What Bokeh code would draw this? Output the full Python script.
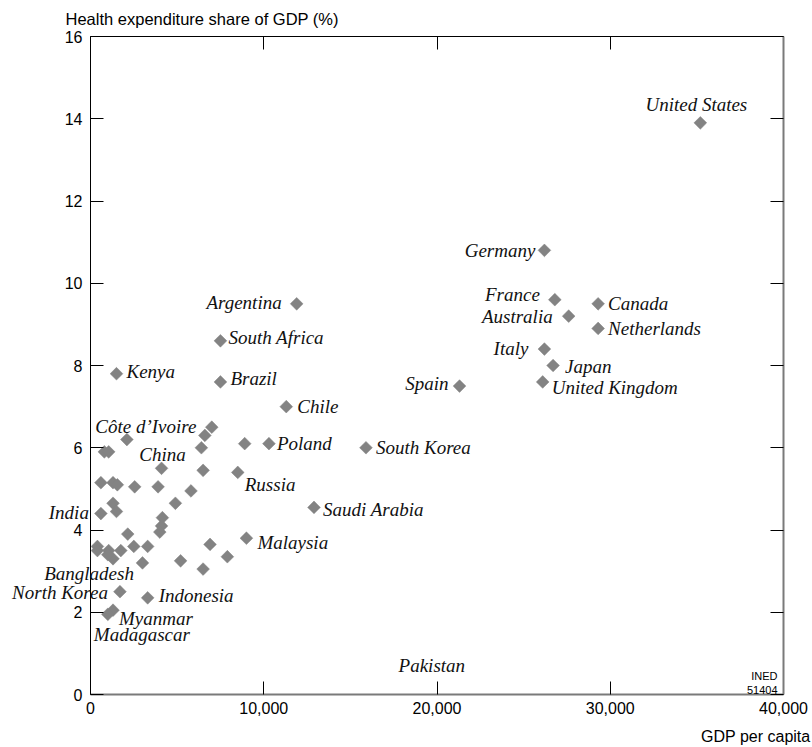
from bokeh.plotting import figure
from bokeh.models import Range1d, LinearAxis, FixedTicker, NumeralTickFormatter, Label
from bokeh.embed import file_html
from bokeh.resources import INLINE
import math

# ---------------- data ----------------
labeled_countries = ["United States", "Germany", "France", "Australia", "Canada",
                     "Netherlands", "Italy", "Japan", "United Kingdom", "Spain",
                     "South Korea", "Saudi Arabia", "Poland", "Chile", "Russia",
                     "Malaysia", "Brazil", "South Africa", "Argentina", "Kenya",
                     "Côte d\u2019Ivoire", "China", "India", "Bangladesh", "North Korea",
                     "Indonesia", "Myanmar", "Madagascar"]
labeled_gdp = [35200, 26200, 26800, 27600, 29300,
               29300, 26200, 26700, 26100, 21300,
               15900, 12900, 10300, 11300, 8500,
               9000, 7500, 7500, 11900, 1500,
               2100, 4100, 600, 1300, 1700,
               3300, 1300, 1000]
labeled_share = [13.9, 10.8, 9.6, 9.2, 9.5,
                 8.9, 8.4, 8.0, 7.6, 7.5,
                 6.0, 4.55, 6.1, 7.0, 5.4,
                 3.8, 7.6, 8.6, 9.5, 7.8,
                 6.2, 5.5, 4.4, 3.3, 2.5,
                 2.35, 2.05, 1.95]

other_gdp = [7000, 6600, 800, 1050, 6400, 8900, 6500, 600, 1300, 1550,
             2550, 3900, 5800, 4900, 1300, 1500, 4150, 4100, 4000, 2150,
             400, 400, 1050, 1000, 1750, 2500, 3300, 3000, 6900, 5200,
             7900, 6500]
other_share = [6.5, 6.3, 5.9, 5.9, 6.0, 6.1, 5.45, 5.15, 5.15, 5.1,
               5.05, 5.05, 4.95, 4.65, 4.65, 4.45, 4.3, 4.1, 3.95, 3.9,
               3.6, 3.5, 3.5, 3.4, 3.5, 3.6, 3.6, 3.2, 3.65, 3.25,
               3.35, 3.05]

# Pakistan appears as a label only (no marker) in the original chart
unmarked_countries = ["Pakistan"]
unmarked_gdp = [19700]
unmarked_share = [0.7]

x_ticks = [0, 10000, 20000, 30000, 40000]
y_ticks = [0, 2, 4, 6, 8, 10, 12, 14, 16]
x_min, x_max = 0, 40000
y_min, y_max = 0, 16

# label placement in pixels (align, dx, dy with dy positive = down)
label_layout = {
    "United States": ("center", -4, -18),
    "Germany": ("right", -9, 0),
    "France": ("right", -15, -5),
    "Australia": ("right", -16, 0),
    "Canada": ("left", 10, 0),
    "Netherlands": ("left", 10, 0),
    "Italy": ("right", -16, -1),
    "Japan": ("left", 12, 1),
    "United Kingdom": ("left", 9, 6),
    "Spain": ("right", -11, -3),
    "South Korea": ("left", 10, 0),
    "Saudi Arabia": ("left", 9, 2),
    "Poland": ("left", 8, 0),
    "Chile": ("left", 11, 0),
    "Russia": ("left", 7, 12),
    "Malaysia": ("left", 11, 4),
    "Brazil": ("left", 10, -3),
    "South Africa": ("left", 8, -3),
    "Argentina": ("right", -15, -1),
    "Kenya": ("left", 10, -2),
    "Côte d\u2019Ivoire": ("center", 19, -13),
    "China": ("center", 1, -14),
    "India": ("right", -12, -1),
    "Bangladesh": ("center", -24, 15),
    "North Korea": ("right", -12, 1),
    "Indonesia": ("left", 11, -2),
    "Myanmar": ("left", 6, 8),
    "Madagascar": ("left", -14, 20),
    "Pakistan": ("center", 0, 0),
}

# ---------------- layout (pixels) ----------------
W, H = 812, 747
AX_L, AX_R, AX_T, AX_B = 90, 783, 36, 694   # where the axis box sits on the canvas
kx = (x_max - x_min) / (AX_R - AX_L)
ky = (y_max - y_min) / (AX_B - AX_T)
x_range = Range1d(x_min - AX_L * kx, x_max + (W - AX_R) * kx)
y_range = Range1d(y_min - (H - AX_B) * ky, y_max + AX_T * ky)

p = figure(width=W, height=H, x_range=x_range, y_range=y_range,
           x_axis_location=None, y_axis_location=None,
           output_backend="svg", toolbar_location=None,
           min_border=0)
p.outline_line_color = None
p.xgrid.visible = False
p.ygrid.visible = False
p.background_fill_color = "white"
p.border_fill_color = "white"

SANS = "Liberation Sans"
SERIF = "Liberation Serif"


def make_axis(ticks, loc, bounds, labels, line_color, line_width, standoff=8, fmt=None):
    ax = LinearAxis(ticker=FixedTicker(ticks=ticks), fixed_location=loc, bounds=bounds)
    ax.major_tick_in = 13
    ax.major_tick_out = 0
    ax.minor_tick_line_color = None
    ax.major_tick_line_color = "black"
    ax.major_tick_line_width = 1
    ax.axis_line_color = line_color
    ax.axis_line_width = line_width
    ax.major_label_standoff = standoff
    if fmt is not None:
        ax.formatter = fmt
    ax.major_label_text_font = SANS
    ax.major_label_text_font_size = "16px"
    ax.major_label_text_color = "black" if labels else None
    return ax


p.add_layout(make_axis(y_ticks, x_min, (y_min, y_max), True, "black", 1, 8), "left")
p.add_layout(make_axis(y_ticks, x_max, (y_min, y_max), False, "#7a7a7a", 2), "right")
p.add_layout(make_axis(x_ticks, y_min, (x_min, x_max), True, "#7a7a7a", 2, 7,
                       NumeralTickFormatter(format="0,0")), "below")
p.add_layout(make_axis(x_ticks, y_max, (x_min, x_max), False, "black", 1), "above")

# markers
all_gdp = labeled_gdp + other_gdp
all_share = labeled_share + other_share
p.scatter(all_gdp, all_share, marker="square", size=9, angle=math.pi / 4,
          fill_color="#838383", line_color="#838383", line_width=0.5)

# country labels
for name, gx, gy in zip(labeled_countries + unmarked_countries,
                        labeled_gdp + unmarked_gdp,
                        labeled_share + unmarked_share):
    align, dx, dy = label_layout[name]
    p.add_layout(Label(x=gx, y=gy, text=name, x_offset=dx, y_offset=-dy,
                       text_align=align, text_baseline="middle",
                       text_font=SERIF, text_font_style="italic",
                       text_font_size="19px", text_color="#111111"))

# axis titles and source note
p.add_layout(Label(x=x_min, y=y_max, x_offset=-25, y_offset=18,
                   text="Health expenditure share of GDP (%)",
                   text_align="left", text_baseline="middle",
                   text_font=SANS, text_font_size="16.5px", text_color="black"))
p.add_layout(Label(x=x_max, y=y_min, x_offset=27, y_offset=-42,
                   text="GDP per capita",
                   text_align="right", text_baseline="middle",
                   text_font=SANS, text_font_size="16px", text_color="black"))
p.add_layout(Label(x=x_max, y=y_min, x_offset=-6, y_offset=19, text="INED",
                   text_align="right", text_baseline="middle",
                   text_font=SANS, text_font_size="11px", text_color="black"))
p.add_layout(Label(x=x_max, y=y_min, x_offset=-6, y_offset=5, text="51404",
                   text_align="right", text_baseline="middle",
                   text_font=SANS, text_font_size="11px", text_color="black"))

open("out.html", "w").write(file_html(p, INLINE))
